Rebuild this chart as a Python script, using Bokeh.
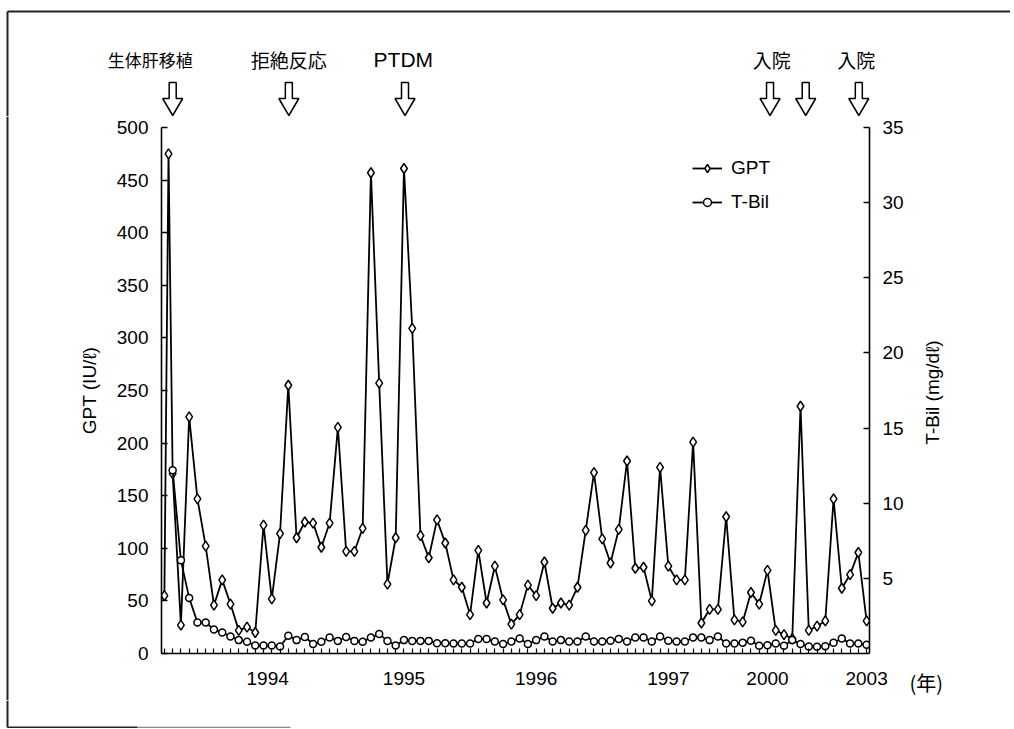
import math
from bokeh.plotting import figure
from bokeh.layouts import column, row
from bokeh.models import (Range1d, LinearAxis, FixedTicker, Legend, LegendItem,
                          ColumnDataSource, CustomJSTickFormatter)
from bokeh.embed import file_html
from bokeh.resources import INLINE
from bokeh.core.properties import value

# ---------------- data ----------------
gpt_x = [0, 0.5] + list(range(1, 86))
gpt = [55, 475, 171, 27, 225, 147, 102, 46, 70, 47, 22, 25,
       20, 122, 52, 114, 255, 110, 125, 124, 101, 124,
       215, 97, 97, 119, 457, 257, 66, 110, 461, 309,
       112, 91, 127, 105, 70, 63, 37, 98, 48, 83,
       51, 28, 37, 65, 55, 87, 43, 48, 46, 63,
       117, 172, 109, 86, 118, 183, 81, 82, 50, 177,
       83, 70, 70, 201, 29, 42, 42, 130, 32, 30,
       58, 47, 79, 22, 18, 14, 235, 22, 26, 31,
       147, 62, 75, 96, 31]

tbil_x = list(range(1, 86))
tbil = [12.2, 6.2, 3.7, 2.06, 2.06, 1.6, 1.4, 1.13, 0.89, 0.78,
        0.53, 0.53, 0.53, 0.47, 1.18, 0.89, 1.1, 0.63, 0.78, 1.06,
        0.84, 1.1, 0.84, 0.78, 1.06, 1.29, 0.84, 0.53, 0.89, 0.84,
        0.84, 0.84, 0.68, 0.68, 0.67, 0.67, 0.67, 0.96, 0.96, 0.80,
        0.63, 0.80, 1.0, 0.63, 0.89, 1.13, 0.80, 0.89, 0.80, 0.80,
        1.13, 0.80, 0.80, 0.85, 0.96, 0.80, 1.06, 1.06, 0.80, 1.13,
        0.85, 0.80, 0.80, 1.06, 1.06, 0.89, 1.13, 0.67, 0.67, 0.72,
        0.85, 0.51, 0.55, 0.67, 0.51, 0.89, 0.63, 0.47, 0.45, 0.49,
        0.72, 1.0, 0.67, 0.67, 0.58]

year_pos = [12.5, 29, 45, 61, 73, 85]
year_labels = ["1994", "1995", "1996", "1997", "2000", "2003"]
year_unit = "(年)"

gpt_ticks = list(range(0, 501, 50))
tbil_ticks = [5, 10, 15, 20, 25, 30, 35]
gpt_title = "GPT (IU/ℓ)"
tbil_title = "T-Bil (mg/dℓ)"

event_x = [1, 15, 29, 73, 77.3, 83.7]
event_label_x = [-1.7, 15, 28.8, 73.2, 83.4]
event_labels = ["生体肝移植", "拒絶反応", "PTDM", "入院", "入院"]
event_label_px = [17, 19, 21, 19, 19]

# ---------------- layout constants (page pixels) ----------------
LW, MW, RW = 14, 892, 104
TOP_H, MH, BOT_H = 116, 584, 28
W_ALL = LW + MW + RW
MB_L, MB_R, MB_T, MB_B = 147, 34, 11, 47
X0, X1 = -0.35, 85.35
FRAME_L = LW + MB_L
FRAME_W = MW - MB_L - MB_R
PX_X = FRAME_W / (X1 - X0)
MAIN_TOP = TOP_H
MAIN_BOT = TOP_H + MH
RIGHT_X0 = LW + MW

FONT = "Liberation Sans"
CJK = "Noto Sans CJK JP"
FS = "19px"
INK = "black"
FRAME_INK = "#222222"


def idx_to_page(v):
    return FRAME_L + (v - X0) * PX_X


def strip(width, height, x0, y0):
    f = figure(width=width, height=height, output_backend="svg", toolbar_location=None,
               x_axis_type=None, y_axis_type=None,
               x_range=Range1d(x0, x0 + width), y_range=Range1d(y0 + height, y0),
               min_border=0, min_border_left=0, min_border_right=0,
               min_border_top=0, min_border_bottom=0)
    f.frame_align = False
    f.outline_line_color = None
    f.background_fill_color = "white"
    f.border_fill_color = "white"
    return f


# ---------------- main chart ----------------
p = figure(width=MW, height=MH, x_range=Range1d(X0, X1), y_range=Range1d(0, 500),
           output_backend="svg", toolbar_location=None,
           x_axis_type=None, y_axis_type=None,
           min_border_left=MB_L, min_border_right=MB_R,
           min_border_top=MB_T, min_border_bottom=MB_B)
p.frame_align = False
p.extra_y_ranges = {"tbil": Range1d(0, 35)}
p.outline_line_color = None
p.background_fill_color = "white"
p.border_fill_color = "white"


def style_axis(ax):
    ax.axis_line_color = INK
    ax.axis_line_width = 1.6
    ax.major_tick_line_color = INK
    ax.major_tick_line_width = 1.4
    ax.major_tick_in = 6
    ax.major_tick_out = 0
    ax.minor_tick_line_color = None
    ax.major_label_text_font = FONT
    ax.major_label_text_font_size = FS
    ax.major_label_text_color = INK
    ax.major_label_standoff = 13


xa = LinearAxis(ticker=FixedTicker(ticks=year_pos, minor_ticks=list(range(0, 86))),
                formatter=CustomJSTickFormatter(
                    args=dict(pos=year_pos, labels=year_labels),
                    code="for (let i = 0; i < pos.length; i++) {"
                         " if (Math.abs(pos[i] - tick) < 1e-6) return labels[i]; }"
                         " return '';"))
style_axis(xa)
xa.major_tick_line_color = None
xa.minor_tick_line_color = INK
xa.minor_tick_line_width = 1.2
xa.minor_tick_in = 5
xa.minor_tick_out = 0
xa.major_label_standoff = 18
p.add_layout(xa, "below")

ya = LinearAxis(ticker=FixedTicker(ticks=gpt_ticks), axis_label=gpt_title)
style_axis(ya)
ya.axis_label_text_font = FONT
ya.axis_label_text_font_size = FS
ya.axis_label_text_font_style = "normal"
ya.axis_label_text_color = INK
ya.axis_label_standoff = 14
p.add_layout(ya, "left")

yr = LinearAxis(y_range_name="tbil", ticker=FixedTicker(ticks=tbil_ticks))
style_axis(yr)
p.add_layout(yr, "right")

l1 = p.line(gpt_x, gpt, line_color=INK, line_width=1.8)
s1 = p.scatter(gpt_x, gpt, marker="diamond", size=10, fill_color="white",
               line_color=INK, line_width=1.5)
l2 = p.line(tbil_x, tbil, y_range_name="tbil", line_color=INK, line_width=1.8)
s2 = p.scatter(tbil_x, tbil, y_range_name="tbil", marker="circle", size=7,
               fill_color="white", line_color=INK, line_width=1.5)

legend = Legend(items=[LegendItem(label="GPT", renderers=[l1, s1]),
                       LegendItem(label="T-Bil", renderers=[l2, s2])],
                location=(692 - FRAME_L, 440), border_line_color=None,
                background_fill_alpha=0, padding=0, margin=0, spacing=12,
                glyph_width=30, glyph_height=20, label_height=20, label_standoff=9,
                label_text_font=FONT, label_text_font_size=FS, label_text_color=INK)
p.add_layout(legend)

# ---------------- top strip: events ----------------
top = strip(W_ALL, TOP_H, 0, 0)
ARROW_TOP, ARROW_HEAD, ARROW_TIP = 82, 98, 115
SH, HH = 3.5, 10
axs, ays = [], []
for e in event_x:
    c = idx_to_page(e)
    axs.append([c - SH, c + SH, c + SH, c + HH, c, c - HH, c - SH])
    ays.append([ARROW_TOP, ARROW_TOP, ARROW_HEAD, ARROW_HEAD, ARROW_TIP, ARROW_HEAD, ARROW_HEAD])
top.patches(axs, ays, fill_color="white", line_color=INK, line_width=1.5)

ev_src = ColumnDataSource(dict(
    x=[idx_to_page(v) for v in event_label_x],
    y=[59] * len(event_labels),
    text=event_labels,
    font=[FONT if t.isascii() else CJK for t in event_labels],
    size=["%dpx" % s for s in event_label_px],
))
top.text(x="x", y="y", text="text", source=ev_src, text_font="font",
         text_font_size="size", text_align="center", text_baseline="middle",
         text_color=INK)
top.line([7, W_ALL], [11, 11], line_color=FRAME_INK, line_width=2)
top.line([7, 7], [11, TOP_H], line_color=FRAME_INK, line_width=2)

# ---------------- side strips ----------------
left = strip(LW, MH, 0, MAIN_TOP)
left.line([7, 7], [MAIN_TOP, MAIN_BOT], line_color=FRAME_INK, line_width=2)

right = strip(RW, MH, RIGHT_X0, MAIN_TOP)
right.text(x=[932], y=[392], text=[tbil_title], angle=math.pi / 2,
           text_font=value(FONT), text_font_size=FS, text_align="center",
           text_baseline="middle", text_color=INK)
right.text(x=[RIGHT_X0 + 3], y=[682], text=[year_unit], text_font=value(CJK),
           text_font_size="20px", text_align="left", text_baseline="middle",
           text_color=INK)

# ---------------- bottom strip: frame ----------------
bottom = strip(W_ALL, BOT_H, 0, MAIN_BOT)
bottom.line([7, 7], [MAIN_BOT, 727], line_color=FRAME_INK, line_width=2)
bottom.line([7, 137], [727, 727], line_color=FRAME_INK, line_width=2)
bottom.line([137, 290], [727, 727], line_color="#888888", line_width=1.5)

layout = column(top, row(left, p, right), bottom)

open("out.html", "w", encoding="utf-8").write(file_html(layout, INLINE))
